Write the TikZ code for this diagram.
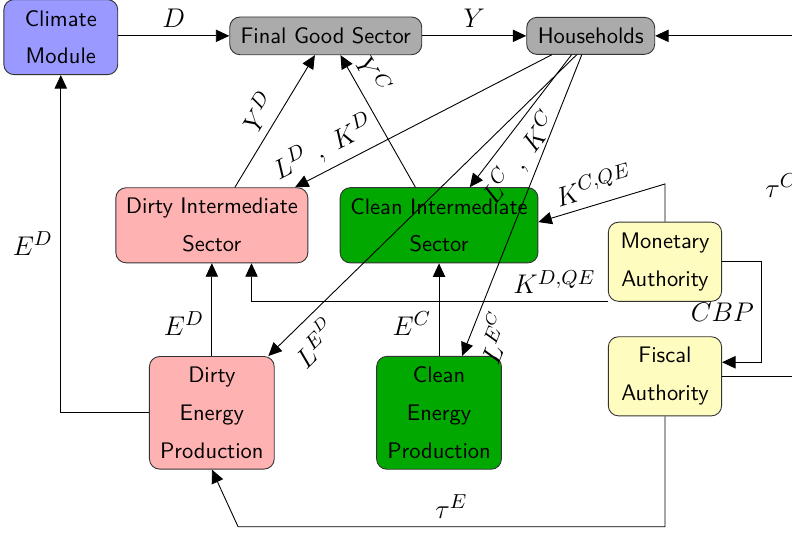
\documentclass[tikz,border=0pt]{standalone}
\usepackage{amsmath,amssymb}
\usepackage{tikz}
\usetikzlibrary{arrows.meta,shapes,positioning,calc}
\usepackage{xcolor}
\DeclareMathSizes{12}{12}{9}{7}

\tikzset{
    box/.style={draw=black!80, rounded corners=1.6mm, font=\sffamily\linespread{1.4}\selectfont,
        align=center, inner xsep=3pt, inner ysep=4.7pt},
    lab/.style={font=\large},
}

\begin{document}
\begin{tikzpicture}[>={Triangle[length=6pt,width=5.5pt]}]
    \clip (0,0) rectangle (12.375,-8.328);

    % blocs
    \node[box, fill=blue!40, minimum width=1.78cm] (climate) at (0.95,-0.58) {Climate\\Module};
    \node[box, fill=black!33, minimum width=3cm] (final) at (5.09,-0.56) {Final Good Sector};
    \node[box, fill=black!33, minimum width=2cm] (house) at (9.23,-0.56) {Households};
    \node[box, fill=red!30, minimum width=3cm] (dint) at (3.31,-3.52) {Dirty Intermediate\\Sector};
    \node[box, fill=green!66!black, minimum width=3.09cm] (cint) at (6.86,-3.52) {Clean Intermediate\\Sector};
    \node[box, fill=yellow!25, minimum width=1.77cm] (mon) at (10.39,-4.09) {Monetary\\Authority};
    \node[box, fill=yellow!25, minimum width=1.77cm] (fis) at (10.39,-5.88) {Fiscal\\Authority};
    \node[box, fill=red!30, minimum width=1.95cm] (deng) at (3.31,-6.45) {Dirty\\Energy\\Production};
    \node[box, fill=green!66!black, minimum width=1.95cm] (ceng) at (6.86,-6.45) {Clean\\Energy\\Production};

    % coins
    \coordinate (tc) at (12.58,-0.56);
    \coordinate (te) at (3.72,-8.23);

    % flux du haut
    \draw[->] (climate.east |- final) -- node[lab, midway, above] {$D$} (final.west);
    \draw[->] (final.east) -- node[lab, midway, above] {$Y$} (house.west);
    \draw[->] (fis.east) -| node[lab, pos=0.78, left] {$\tau^C$} (tc) -- (house.east);
    \draw[->] (deng.west) -| node[lab, pos=0.75, left] {$E^D$} (climate.south);

    % biens intermediaires
    \draw[->] ([xshift=0.36cm]dint.north) -- node[lab, midway, above, sloped] {$Y^D$} ([xshift=-0.17cm]final.south);
    \draw[->] ([xshift=-0.37cm]cint.north) -- node[lab, pos=0.78, above, sloped] {$Y^C$} ([xshift=0.23cm]final.south);

    % facteurs des menages
    \draw[->] ([xshift=-0.61cm]house.south) -- node[lab, pos=0.85, above, sloped] {$L^D\ ,\ K^D$} ([xshift=1.3cm]dint.north);
    \draw[->] ([xshift=-0.3cm]house.south) -- node[lab, pos=0.68, below, sloped] {$L^C\ ,\ K^C$} ([xshift=0.48cm]cint.north);
    \draw[->] ([xshift=-0.22cm]house.south) -- node[lab, pos=0.9, below, sloped] {$L^{E^D}$} ([xshift=-0.1cm]deng.north east);
    \draw[->] ([xshift=-0.14cm]house.south) -- node[lab, pos=0.91, below, sloped] {$L^{E^C}$} ([xshift=0.36cm]ceng.north);

    % energie
    \draw[->] (deng.north) -- node[lab, pos=0.35, left] {$E^D$} (dint.south);
    \draw[->] (ceng.north) -- node[lab, pos=0.35, left] {$E^C$} (cint.south);

    % politique
    \draw[->] (mon.north) -- ++(0,0.59) -- node[lab, pos=0.52, above, sloped] {$K^{C,QE}$} ([yshift=0.05cm]cint.east);
    \draw[->] (mon.south west) -| node[lab, pos=0.075, above] {$K^{D,QE}$} ([xshift=0.62cm]dint.south);
    \draw[->] (mon.east) -- ++(0.62,0) |- node[lab, pos=0.25, left] {$CBP$} ([yshift=0.22cm]fis.east);
    \draw[->] (fis.south) |- node[lab, pos=0.75, above] {$\tau^E$} (te) -- (deng.south);
\end{tikzpicture}
\end{document}
